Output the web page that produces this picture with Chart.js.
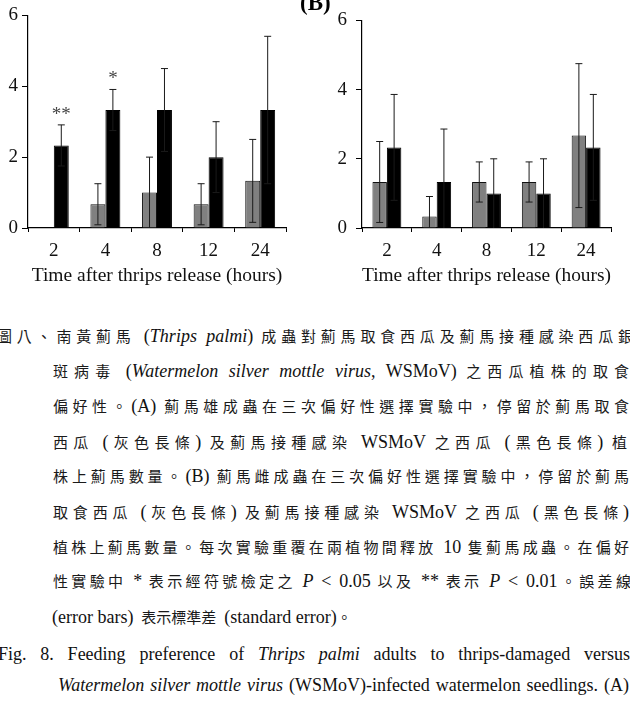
<!DOCTYPE html>
<html>
<head>
<meta charset="utf-8">
<script src="https://cdn.jsdelivr.net/npm/chart.js@4/dist/chart.umd.min.js"></script>
<style>
  body { margin: 0; background: #fff; }
  #page { position: relative; width: 630px; height: 702px; overflow: hidden; }
  canvas { position: absolute; top: 0; }
  #chartA { left: 0; }
  #chartB { left: 330px; }
  .panel { position: absolute; left: 300px; top: -10px; font: bold 23px "Liberation Serif", serif; }
  .ln {
    position: absolute; height: 24px; line-height: 24px; white-space: normal;
    font: 15px "Noto Sans CJK TC", sans-serif; color: #1a1a1a;
    text-align: justify; text-align-last: justify;
  }
  .ln.left { text-align-last: left; }
  .e { font: 18px "Liberation Serif", serif; color: #111; }
  .en { font: 18px "Liberation Serif", serif; color: #111; }
</style>
</head>
<body>
<div id="page">
  <canvas id="chartA" width="300" height="290"></canvas>
  <canvas id="chartB" width="300" height="290"></canvas>
  <div class="panel">(B)</div>

  <div class="ln" style="left:-3px;width:636px;top:325px">圖八、南黃薊馬 <span class="e">(<i>Thrips palmi</i>)</span> 成蟲對薊馬取食西瓜及薊馬接種感染西瓜銀</div>
  <div class="ln" style="left:53px;width:576px;top:360px">斑病毒 <span class="e">(<i>Watermelon silver mottle virus</i>, WSMoV)</span> 之西瓜植株的取食</div>
  <div class="ln" style="left:53px;width:576px;top:395px">偏好性。<span class="e">(A)</span> 薊馬雄成蟲在三次偏好性選擇實驗中，停留於薊馬取食</div>
  <div class="ln" style="left:53px;width:574px;top:431px">西瓜 <span class="e">(</span>灰色長條<span class="e">)</span> 及薊馬接種感染 <span class="e">WSMoV</span> 之西瓜 <span class="e">(</span>黑色長條<span class="e">)</span> 植</div>
  <div class="ln" style="left:53px;width:576px;top:465px">株上薊馬數量。<span class="e">(B)</span> 薊馬雌成蟲在三次偏好性選擇實驗中，停留於薊馬</div>
  <div class="ln" style="left:53px;width:576px;top:501px">取食西瓜 <span class="e">(</span>灰色長條<span class="e">)</span> 及薊馬接種感染 <span class="e">WSMoV</span> 之西瓜 <span class="e">(</span>黑色長條<span class="e">)</span></div>
  <div class="ln" style="left:53px;width:576px;top:536px">植株上薊馬數量。每次實驗重覆在兩植物間釋放 <span class="e">10</span> 隻薊馬成蟲。在偏好</div>
  <div class="ln" style="left:53px;width:578px;top:570px">性實驗中 <span class="e">*</span> 表示經符號檢定之 <span class="e"><i>P</i> &lt; 0.05</span> 以及 <span class="e">**</span> 表示 <span class="e"><i>P</i> &lt; 0.01</span>。誤差線</div>
  <div class="ln left" style="left:52px;width:576px;top:606px"><span class="e">(error bars)&nbsp;</span> 表示標準差 <span class="e">&nbsp;(standard error)</span>。</div>
  <div class="ln en" style="left:-2px;width:632px;top:644px">Fig. 8. Feeding preference of <i>Thrips palmi</i> adults to thrips-damaged versus</div>
  <div class="ln en" style="left:58px;width:571px;top:675px"><i>Watermelon silver mottle virus</i> (WSMoV)-infected watermelon seedlings. (A)</div>
</div>

<script>
// hours after release
const hours = ['2', '4', '8', '12', '24'];

// (A) males: thrips-damaged (gray) vs WSMoV-infected (black), mean and SE
const maleDamaged = [0, 0.67, 1.0, 0.67, 1.33];
const maleDamagedErr = [0, 0.58, 1.0, 0.58, 1.17];
const maleInfected = [2.33, 3.33, 3.33, 2.0, 3.33];
const maleInfectedErr = [0.58, 0.58, 1.17, 1.0, 2.08];
const maleMarks = ['**', '*', '', '', ''];

// (B) females
const femaleDamaged = [1.33, 0.33, 1.33, 1.33, 2.67];
const femaleDamagedErr = [1.17, 0.58, 0.58, 0.58, 2.08];
const femaleInfected = [2.33, 1.33, 1.0, 1.0, 2.33];
const femaleInfectedErr = [1.53, 1.53, 1.0, 1.0, 1.53];
const femaleMarks = ['', '', '', '', ''];

const yTicks = [0, 2, 4, 6];

const SERIF = '"Liberation Serif", "Times New Roman", serif';

// whiskers + significance stars, positioned from the y scale
const errorBars = {
  id: 'errorBars',
  afterDatasetsDraw(chart) {
    const ctx = chart.ctx;
    const y = chart.scales.y;
    ctx.save();
    chart.data.datasets.forEach((ds, i) => {
      const meta = chart.getDatasetMeta(i);
      meta.data.forEach((bar, j) => {
        const v = ds.data[j];
        const err = ds.errors[j];
        let top = null;
        if (err) {
          top = y.getPixelForValue(v + err);
          const lowVal = v - err;
          const bottom = y.getPixelForValue(Math.max(0, lowVal));
          ctx.strokeStyle = '#1a1a1a';
          ctx.lineWidth = 1;
          ctx.beginPath();
          ctx.moveTo(bar.x, top);
          ctx.lineTo(bar.x, bottom);
          ctx.moveTo(bar.x - 3.5, top);
          ctx.lineTo(bar.x + 3.5, top);
          if (lowVal > 0.02) {
            ctx.moveTo(bar.x - 3.5, bottom);
            ctx.lineTo(bar.x + 3.5, bottom);
          }
          ctx.stroke();
        }
        const mark = ds.marks && ds.marks[j];
        if (mark) {
          ctx.fillStyle = '#444';
          ctx.font = '19px ' + SERIF;
          ctx.textAlign = 'center';
          ctx.textBaseline = 'alphabetic';
          ctx.fillText(mark, bar.x, (top ?? bar.y) - 5);
        }
      });
    });
    ctx.restore();
  },
};

function makeChart(id, damaged, damagedErr, infected, infectedErr, marks, axisWidth, labelPad, rightPad) {
  const ctx = document.getElementById(id).getContext('2d');
  return new Chart(ctx, {
    type: 'bar',
    data: {
      labels: hours,
      datasets: [
        {
          label: 'Thrips-damaged',
          data: damaged,
          errors: damagedErr,
          backgroundColor: '#808080',
          borderColor: '#111',
          borderWidth: 1,
          borderSkipped: 'bottom',
        },
        {
          label: 'WSMoV-infected',
          data: infected,
          errors: infectedErr,
          marks: marks,
          backgroundColor: '#000',
          borderColor: '#000',
          borderWidth: 1,
          borderSkipped: 'bottom',
        },
      ],
    },
    options: {
      responsive: false,
      animation: false,
      categoryPercentage: 0.58,
      barPercentage: 1.0,
      layout: { padding: { top: 11, right: rightPad, bottom: 0, left: 0 } },
      plugins: {
        legend: { display: false },
        tooltip: { enabled: false },
      },
      scales: {
        x: {
          afterFit: s => { s.height = 62; },
          grid: { offset: true, drawOnChartArea: false, drawTicks: true, tickLength: 4, color: '#000', lineWidth: 1 },
          border: { display: true, color: '#000', width: 1.2 },
          ticks: { color: '#111', font: { family: SERIF, size: 19 }, padding: 8 },
          title: {
            display: true,
            text: 'Time after thrips release (hours)',
            color: '#111',
            font: { family: SERIF, size: 19.5 },
            padding: { top: 0, bottom: 2 },
          },
        },
        y: {
          min: 0,
          max: 6,
          afterFit: s => { s.width = axisWidth; },
          afterBuildTicks: s => { s.ticks = yTicks.map(v => ({ value: v })); },
          grid: { drawOnChartArea: false, drawTicks: true, tickLength: 6, color: '#000', lineWidth: 1 },
          border: { display: true, color: '#000', width: 1.2 },
          ticks: { color: '#111', font: { family: SERIF, size: 19 }, padding: labelPad },
        },
      },
    },
    plugins: [errorBars],
  });
}

makeChart('chartA', maleDamaged, maleDamagedErr, maleInfected, maleInfectedErr, maleMarks, 28, 4, 14);
makeChart('chartB', femaleDamaged, femaleDamagedErr, femaleInfected, femaleInfectedErr, femaleMarks, 32, 9, 19);
</script>
</body>
</html>
